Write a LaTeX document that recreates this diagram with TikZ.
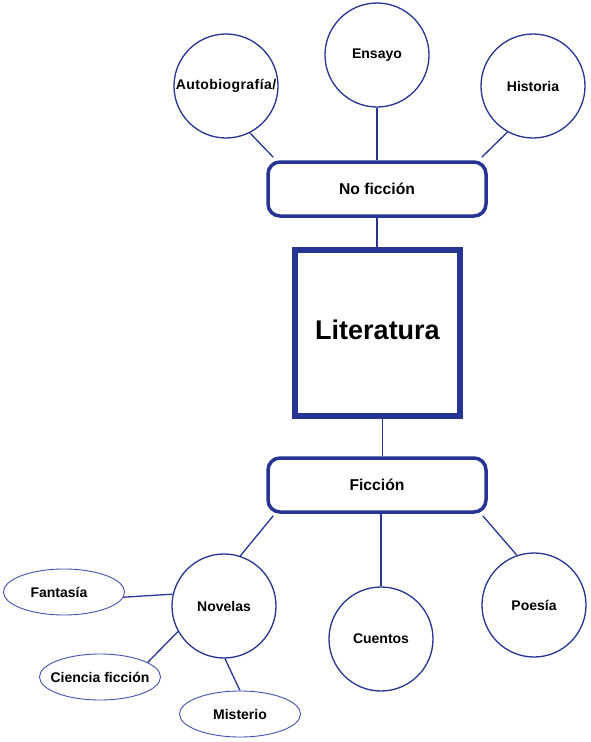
\documentclass[tikz,border=0pt]{standalone}
\usepackage{fontspec}
\setmainfont{Liberation Sans}
\usetikzlibrary{shapes.geometric}
\definecolor{dblue}{RGB}{38,52,148}
\definecolor{lblue}{RGB}{70,82,175}
\tikzset{
  circ/.style={circle, draw=dblue, line width=1.3pt, minimum size=104pt, inner sep=0pt, font=\fontsize{14}{16}\selectfont\bfseries},
  ell/.style={ellipse, draw=lblue, line width=0.9pt, minimum width=121pt, minimum height=46pt, inner xsep=-9pt, inner ysep=0pt, font=\fontsize{14}{16}\selectfont\bfseries},
  catbox/.style={draw=dblue, line width=3.5pt, rounded corners=12pt, minimum width=218pt, minimum height=54pt, inner sep=0pt, font=\fontsize{15.7}{18}\selectfont\bfseries},
  mainbox/.style={draw=dblue, line width=6pt, minimum width=165pt, minimum height=166pt, inner sep=0pt},
  conn/.style={draw=dblue, line width=1.3pt}
}
\begin{document}
\begin{tikzpicture}[x=1pt,y=-1pt]
\useasboundingbox (0,0) rectangle (590,742);
% nodes
\node[circ] (auto) at (226,86) {\addfontfeature{LetterSpace=3}Autobiografía/};
\node[circ] (ensayo) at (377,55) {Ensayo};
\node[circ] (hist) at (533,86) {Historia};
\node[catbox] (nofic) at (377,189) {No ficción};
\node[mainbox] (lit) at (377.5,333) {};
\node[font=\fontsize{27}{30}\selectfont\bfseries] (littext) at (377.5,330) {Literatura};
\node[catbox] (fic) at (377,485) {Ficción};
\node[circ] (nov) at (224,606) {Novelas};
\node[circ] (cuen) at (381,639) {Cuentos};
\node[circ] (poe) at (534,605) {Poesía};
\node[ell] (fan) at (64,592) {\hspace*{-10pt}Fantasía};
\node[ell] (cie) at (100,677) {Ciencia ficción};
\node[ell] (mis) at (240,714) {Misterio};
% connectors
\draw[conn] (auto.-63) -- ([xshift=7pt,yshift=3pt]nofic.north west);
\draw[conn] (ensayo.south) -- (ensayo.south |- nofic.north);
\draw[conn] (hist.-119) -- ([xshift=-6pt,yshift=3pt]nofic.north east);
\draw[conn] (nofic.south) -- (nofic.south |- lit.north);
\draw[conn] ([xshift=5pt]lit.south) -- ([xshift=5pt]lit.south |- fic.north);
\draw[conn] ([xshift=7pt,yshift=-2pt]fic.south west) -- (nov.72);
\draw[conn] (cuen.north) -- (cuen.north |- fic.south);
\draw[conn] ([xshift=-5pt,yshift=-2pt]fic.south east) -- (poe.109);
\draw[conn] (fan.-5) -- (nov.167);
\draw[conn] (cie.17) -- (nov.-151);
\draw[conn] (mis.north) -- (nov.-89);
\end{tikzpicture}
\end{document}
